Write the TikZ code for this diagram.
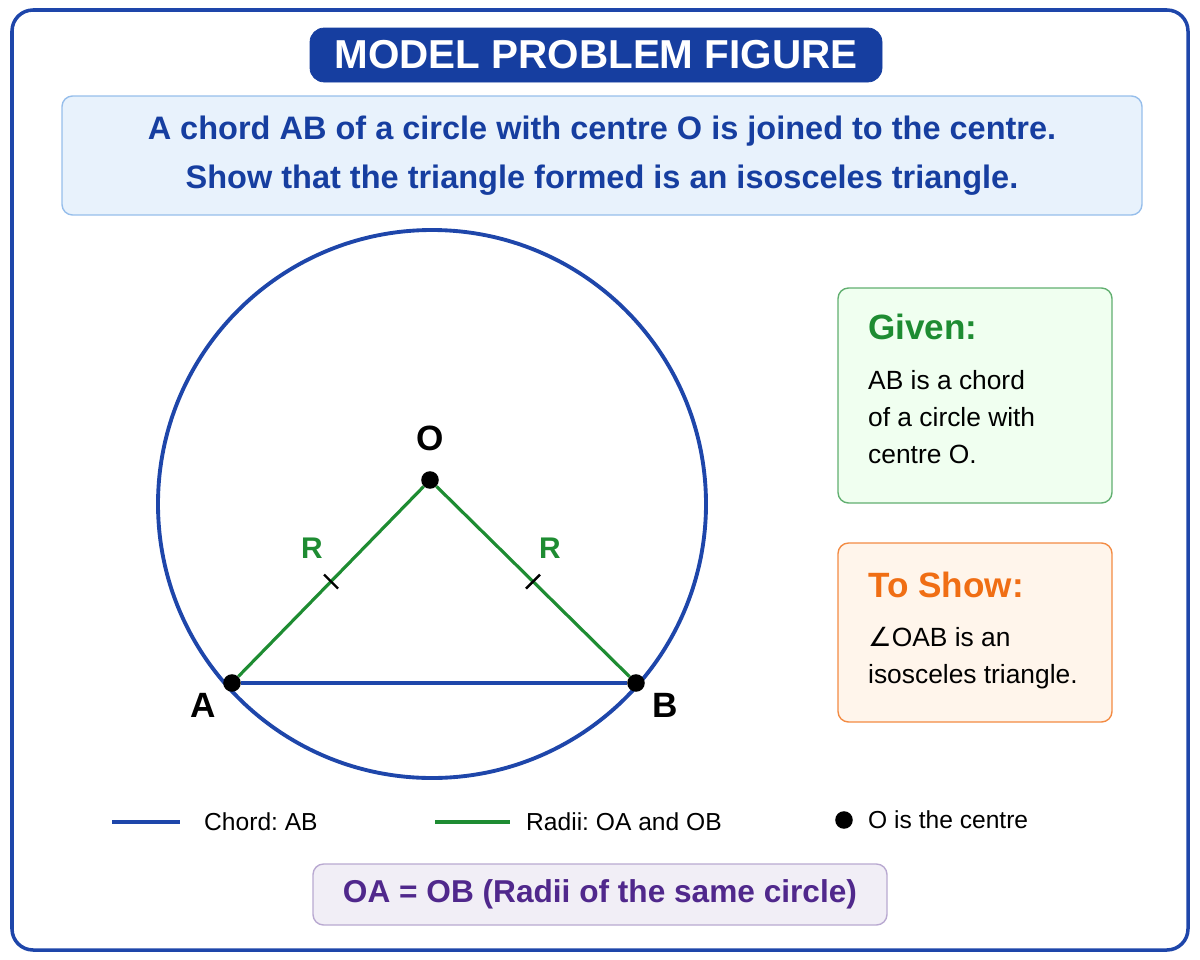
\documentclass[tikz,border=0pt]{standalone}
\usepackage{fontspec}
\setmainfont{Liberation Sans}
\newfontfamily\symfont{DejaVu Sans}
\usetikzlibrary{positioning,calc}
\definecolor{navy}{RGB}{22,62,160}
\definecolor{circblue}{RGB}{30,70,170}
\definecolor{radgreen}{RGB}{30,140,50}
\definecolor{orng}{RGB}{240,110,20}
\definecolor{purp}{RGB}{80,40,140}
\definecolor{qfill}{RGB}{232,242,252}
\definecolor{qdraw}{RGB}{150,190,235}
\frenchspacing
\begin{document}
\begin{tikzpicture}[x=0.02cm,y=-0.02cm,
    panel/.style={draw, rounded corners=6pt, line width=0.8pt},
    dot/.style={circle, fill=black, inner sep=0pt, minimum size=10pt},
    tick/.style={line width=1.4pt},
    ptlabel/.style={font=\bfseries\fontsize{20pt}{24pt}\selectfont},
    rlabel/.style={font=\bfseries\fontsize{17pt}{20pt}\selectfont, text=radgreen},
    boxtext/.style={align=left, anchor=north west, font=\fontsize{15pt}{21pt}\selectfont},
    legend/.style={anchor=west, font=\fontsize{14pt}{18pt}\selectfont}]
    \useasboundingbox (0,0) rectangle (1200,960);

    % Frame and heading
    \draw[circblue, line width=2pt, rounded corners=12pt] (12,10) rectangle (1188,950);
    \draw[navy, fill=navy, rounded corners=8pt] (310,28) rectangle (882,82);
    \node[text=white, font=\bfseries\fontsize{23pt}{26pt}\selectfont] (title) at (596,55) {MODEL PROBLEM FIGURE};
    \draw[panel, draw=qdraw, fill=qfill] (62,96) rectangle (1142,215);
    \node[text=navy, align=center, font=\bfseries\fontsize{18.5pt}{28pt}\selectfont] (question) at (602,156)
      {A chord AB of a circle with centre O is joined to the centre.\\Show that the triangle formed is an isosceles triangle.};

    % Circle and triangle
    \draw[circblue, line width=2.2pt] (432,504) circle (274);
    \node[dot] (O) at (430,480) {};
    \node[dot] (A) at (232,683) {};
    \node[dot] (B) at (636,683) {};
    \draw[circblue, line width=1.8pt] (A) -- (B);
    \draw[radgreen, line width=1.8pt] (A) -- (O) -- (B);
    \draw[tick] ($(A)!0.5!(O)$) ++(-7,-7) -- ++(14,14);
    \draw[tick] ($(B)!0.5!(O)$) ++(7,-7) -- ++(-14,14);
    \node[ptlabel] (lO) at (430,438) {O};
    \node[ptlabel] (lA) at (203,705) {A};
    \node[ptlabel] (lB) at (665,705) {B};
    \node[rlabel] (r1) at (312,548) {R};
    \node[rlabel] (r2) at (550,548) {R};

    % Given and To Show
    \draw[panel, draw=radgreen!70, fill=green!6] (838,288) rectangle (1112,503);
    \node[boxtext, text=radgreen, font=\bfseries\fontsize{20pt}{24pt}\selectfont] (given) at (862,308) {Given:};
    \node[boxtext] (giventxt) at (862,364) {AB is a chord\\of a circle with\\centre O.};
    \draw[panel, draw=orng!80, fill=orange!8] (838,543) rectangle (1112,722);
    \node[boxtext, text=orng, font=\bfseries\fontsize{20pt}{24pt}\selectfont] (toshow) at (862,566) {To Show:};
    \node[boxtext] (toshowtxt) at (862,621) {{\symfont ∠}OAB is an\\isosceles triangle.};

    % Legend
    \coordinate (c1) at (112,822); \coordinate (c2) at (180,822);
    \draw[circblue, line width=2.2pt] (c1) -- (c2);
    \node[legend] (chord) at (198,822) {Chord: AB};
    \coordinate (g1) at (435,822); \coordinate (g2) at (510,822);
    \draw[radgreen, line width=2.2pt] (g1) -- (g2);
    \node[legend] (radii) at (520,822) {Radii: OA and OB};
    \node[dot] (cdot) at (844,820) {};
    \node[legend] (centre) at (862,820) {O is the centre};

    % Conclusion
    \draw[panel, draw=purp!40, fill=purp!8] (313,864) rectangle (887,925);
    \node[text=purp, font=\bfseries\fontsize{18pt}{22pt}\selectfont] (concl) at (600,894) {OA = OB (Radii of the same circle)};
\end{tikzpicture}
\end{document}
